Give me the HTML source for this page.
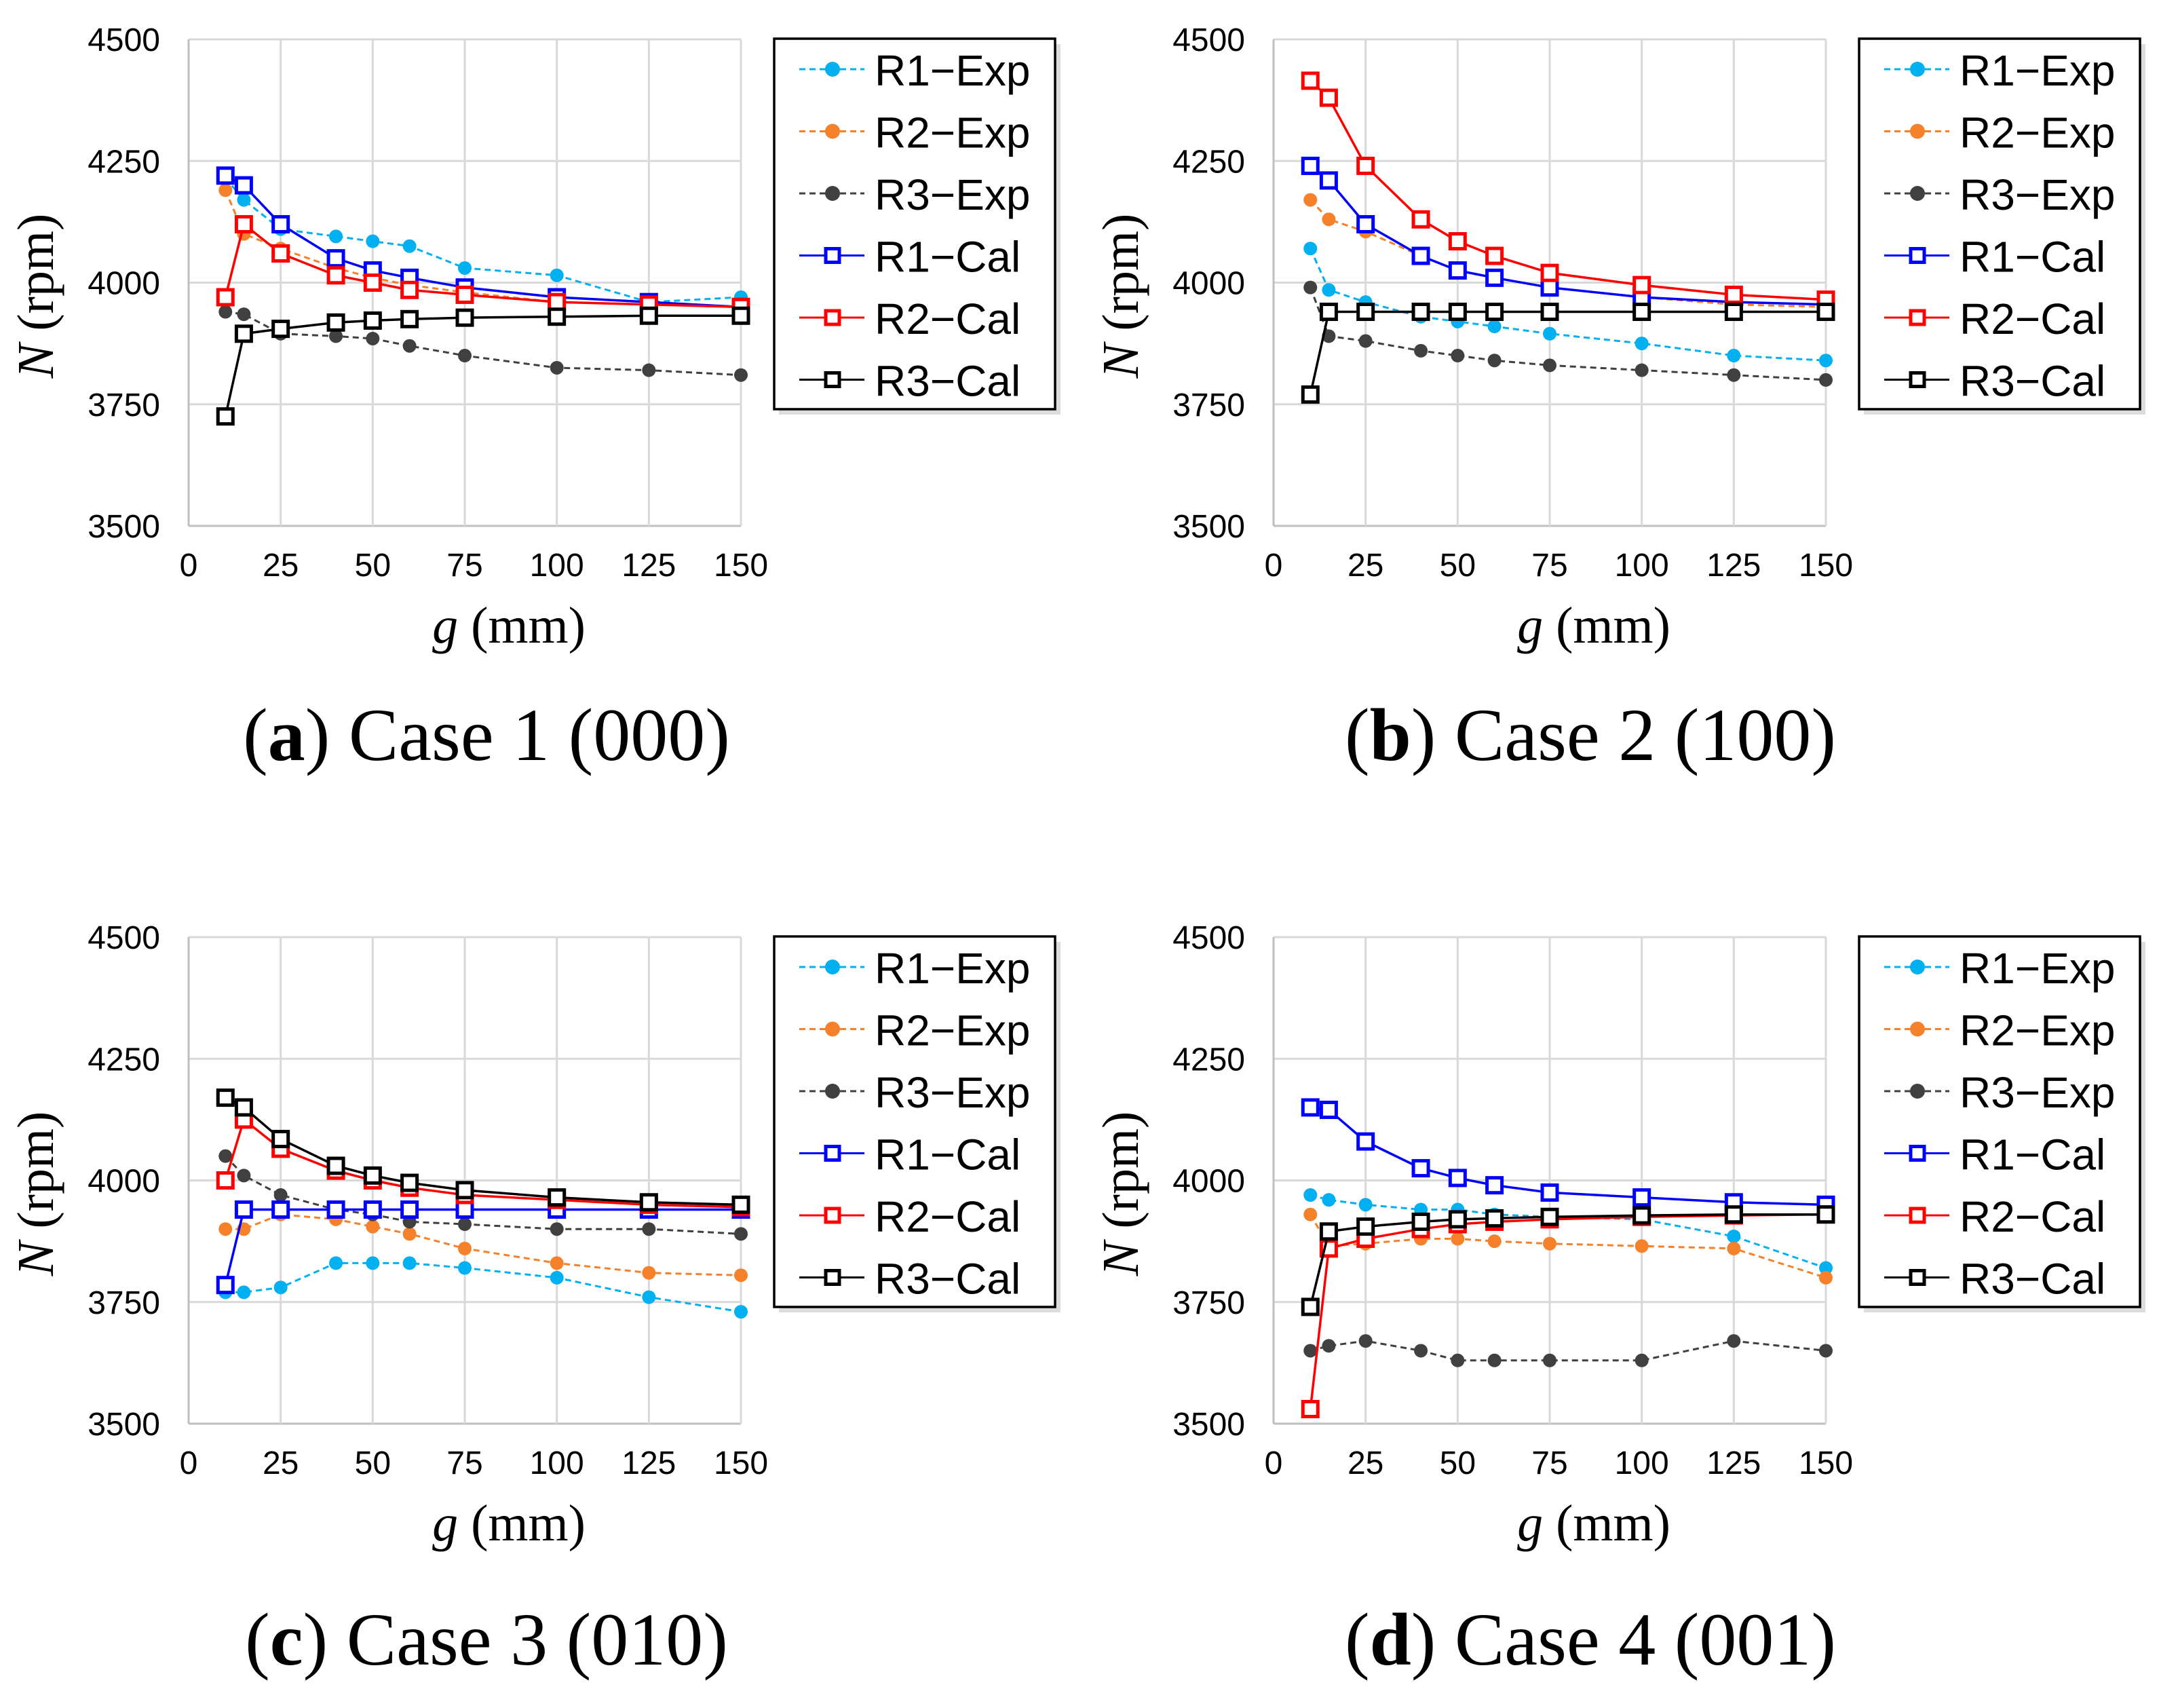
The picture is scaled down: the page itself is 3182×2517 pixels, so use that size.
<!DOCTYPE html>
<html><head><meta charset="utf-8"><style>
html,body{margin:0;padding:0;background:#fff}
svg{display:block}
</style></head><body>
<svg id="fig" xmlns="http://www.w3.org/2000/svg" width="3182" height="2517" viewBox="0 0 3182 2517"></svg>
<script>
const xValues=[10,15,25,40,50,60,75,100,125,150];
const xTicks=[0,25,50,75,100,125,150];
const yTicks=[3500,3750,4000,4250,4500];
const seriesNames=["R1\u2212Exp","R2\u2212Exp","R3\u2212Exp","R1\u2212Cal","R2\u2212Cal","R3\u2212Cal"];
const captions=["a","b","c","d"];
const caseLabels=["Case 1 (000)","Case 2 (100)","Case 3 (010)","Case 4 (001)"];
const aR1Exp=[4215,4170,4110,4095,4085,4075,4030,4015,3960,3970];
const aR2Exp=[4190,4100,4070,4030,4010,3995,3980,3960,3955,3950];
const aR3Exp=[3940,3935,3895,3890,3885,3870,3850,3825,3820,3810];
const aR1Cal=[4220,4200,4120,4050,4025,4010,3990,3970,3960,3950];
const aR2Cal=[3970,4120,4060,4015,4000,3985,3975,3960,3955,3950];
const aR3Cal=[3725,3895,3905,3918,3922,3925,3928,3930,3932,3932];
const bR1Exp=[4070,3985,3960,3930,3920,3910,3895,3875,3850,3840];
const bR2Exp=[4170,4130,4105,4055,4025,4010,3990,3970,3955,3950];
const bR3Exp=[3990,3890,3880,3860,3850,3840,3830,3820,3810,3800];
const bR1Cal=[4240,4210,4120,4055,4025,4010,3990,3970,3960,3955];
const bR2Cal=[4415,4380,4240,4130,4085,4055,4020,3995,3975,3965];
const bR3Cal=[3770,3940,3940,3940,3940,3940,3940,3940,3940,3940];
const cR1Exp=[3770,3770,3780,3830,3830,3830,3820,3800,3760,3730];
const cR2Exp=[3900,3900,3930,3920,3905,3890,3860,3830,3810,3805];
const cR3Exp=[4050,4010,3970,3940,3930,3915,3910,3900,3900,3890];
const cR1Cal=[3785,3940,3940,3940,3940,3940,3940,3940,3940,3940];
const cR2Cal=[4000,4125,4065,4020,4000,3985,3970,3960,3950,3945];
const cR3Cal=[4170,4150,4085,4030,4010,3995,3980,3965,3955,3950];
const dR1Exp=[3970,3960,3950,3940,3940,3930,3925,3920,3885,3820];
const dR2Exp=[3930,3865,3870,3880,3880,3875,3870,3865,3860,3800];
const dR3Exp=[3650,3660,3670,3650,3630,3630,3630,3630,3670,3650];
const dR1Cal=[4150,4145,4080,4025,4005,3990,3975,3965,3955,3950];
const dR2Cal=[3530,3860,3880,3900,3910,3915,3920,3925,3928,3930];
const dR3Cal=[3740,3895,3905,3915,3920,3922,3925,3928,3930,3930];
const panelData=[
 [aR1Exp,aR2Exp,aR3Exp,aR1Cal,aR2Cal,aR3Cal],
 [bR1Exp,bR2Exp,bR3Exp,bR1Cal,bR2Cal,bR3Cal],
 [cR1Exp,cR2Exp,cR3Exp,cR1Cal,cR2Cal,cR3Cal],
 [dR1Exp,dR2Exp,dR3Exp,dR1Cal,dR2Cal,dR3Cal]];

const NS="http://www.w3.org/2000/svg";
const svg=document.getElementById('fig');
const colors=["#00b0f0","#f5812a","#404040","#0000ff","#ff0000","#000000"];
const isExp=[true,true,true,false,false,false];
function mk(tag,attrs,parent){const e=document.createElementNS(NS,tag);for(const k in attrs)e.setAttribute(k,attrs[k]);(parent||svg).appendChild(e);return e;}

const panels=[{ox:0,oy:0,cx:717,cy:1120},{ox:1599,oy:0,cx:745,cy:1120},{ox:0,oy:1323,cx:717,cy:1130},{ox:1599,oy:1323,cx:745,cy:1130}];
panels.forEach((p,pi)=>{
  const g=mk('g',{transform:`translate(${p.ox},${p.oy})`});
  
  
  const L=278,R=1092,T=58,B=775;
  const xs=v=>L+(v-0)/150*(R-L);
  const ys=v=>B-(v-3500)/1000*(B-T);
  yTicks.forEach(t=>{
    const ln=mk('line',{x1:L,x2:R,y1:ys(t),y2:ys(t),stroke:t===3500?'#bfbfbf':'#d9d9d9','stroke-width':3},g);
    
    
    const tx=mk('text',{x:236,y:ys(t)+17,'text-anchor':'end','font-family':'"Liberation Sans Narrow","Liberation Sans",sans-serif','font-size':48,fill:'#000'},g);
    tx.textContent=t;
    
    
  });
  xTicks.forEach(t=>{
    const ln=mk('line',{x1:xs(t),x2:xs(t),y1:T,y2:B,stroke:t===0?'#bfbfbf':'#d9d9d9','stroke-width':3},g);
    
    
    const tx=mk('text',{x:xs(t),y:849,'text-anchor':'middle','font-family':'"Liberation Sans Narrow","Liberation Sans",sans-serif','font-size':48,fill:'#000'},g);
    tx.textContent=t;
    
    
  });
  panelData[pi].forEach((vals,si)=>{
    const pts=vals.map((v,i)=>xs(xValues[i])+','+ys(v)).join(' ');
    const pl=mk('polyline',{points:pts,fill:'none',stroke:colors[si],'stroke-width':isExp[si]?3:3.5,'stroke-dasharray':isExp[si]?'9,6':'none'},g);
    
    
    vals.forEach((v,i)=>{
      let m;
      if(isExp[si]) m=mk('circle',{cx:xs(xValues[i]),cy:ys(v),r:10,fill:colors[si]},g);
      else m=mk('rect',{x:xs(xValues[i])-11,y:ys(v)-11,width:22,height:22,fill:'#fff',stroke:colors[si],'stroke-width':5},g);
      
      
    });
  });
  const lg=mk('g',{},g);
  
  
  mk('rect',{x:1148,y:65,width:415,height:546,fill:'#bbb',opacity:0.5},lg);
  mk('rect',{x:1141,y:57,width:414,height:546,fill:'#fff',stroke:'#000','stroke-width':3.5},lg);
  seriesNames.forEach((nm,si)=>{
    const y=102+si*91.5;
    const e=mk('g',{},lg);
    
    
    mk('line',{x1:1178,x2:1274,y1:y,y2:y,stroke:colors[si],'stroke-width':3,'stroke-dasharray':isExp[si]?'9,6':'none'},e);
    if(isExp[si]) mk('circle',{cx:1227,cy:y,r:11,fill:colors[si]},e);
    else mk('rect',{x:1217,y:y-10,width:20,height:20,fill:'#fff',stroke:colors[si],'stroke-width':5},e);
    const t=mk('text',{x:1289,y:y+24,'font-family':'"Liberation Sans",sans-serif','font-size':64,fill:'#000'},e);
    t.textContent=nm;
  });
  const yl=mk('text',{x:0,y:0,transform:'translate(78,436) rotate(-90)','text-anchor':'middle','font-family':'"Liberation Serif",serif','font-size':76,fill:'#000'},g);
  
  
  yl.innerHTML='<tspan font-style="italic">N</tspan> (rpm)';
  const xl=mk('text',{x:750,y:947,'text-anchor':'middle','font-family':'"Liberation Serif",serif','font-size':76,fill:'#000'},g);
  
  
  xl.innerHTML='<tspan font-style="italic">g</tspan> (mm)';
  const cp=mk('text',{x:p.cx,y:p.cy,'text-anchor':'middle','font-family':'"Liberation Serif",serif','font-size':110,fill:'#000'},g);
  
  
  cp.innerHTML='(<tspan font-weight="bold">'+captions[pi]+'</tspan>) '+caseLabels[pi];
});
</script>
</body></html>
